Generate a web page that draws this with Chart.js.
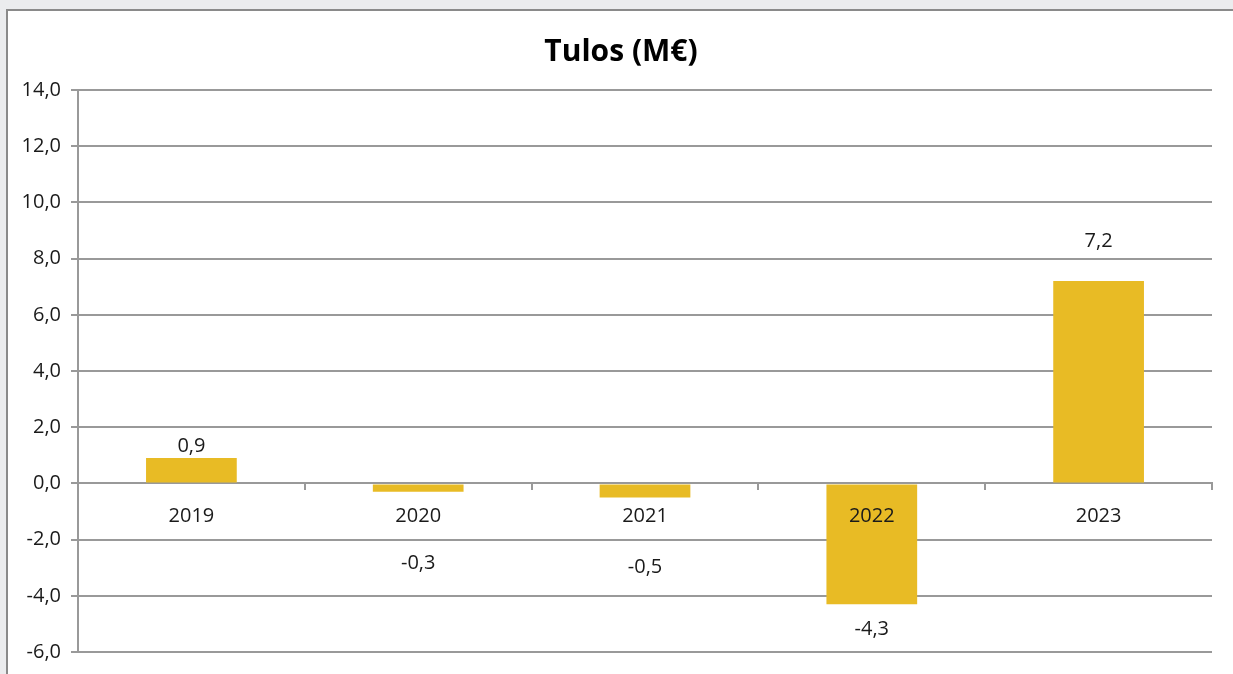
<!DOCTYPE html>
<html>
<head>
<meta charset="utf-8">
<script src="https://cdn.jsdelivr.net/npm/chart.js@4"></script>
<style>
  html, body { margin: 0; padding: 0; overflow: hidden; background: #ebecee; }
  #frame { position: absolute; left: 6px; top: 9px; width: 1300px; height: 700px;
           border: 2px solid #8a8a8a; background: #fff; }
  #wrap { position: absolute; left: 0; top: 0; width: 1233px; height: 674px; }
</style>
</head>
<body>
<div id="frame"></div>
<div id="wrap"><canvas id="tulosChart"></canvas></div>
<script>
const years = ['2019', '2020', '2021', '2022', '2023'];
const tulos = [0.9, -0.3, -0.5, -4.3, 7.2];
// distance (px) from bar end to label centre, as placed in the original
const labelGap = [12, 71, 70, 25, 40];

const fmt = v => v.toFixed(1).replace('.', ',');
const FONT = '"Open Sans", Lato, sans-serif';

const valueLabels = {
  id: 'valueLabels',
  afterLayout(chart) {
    // original title sits centred on the outer frame, a bit right of the canvas centre
    if (chart.titleBlock) chart.titleBlock.left += 30;
  },
  afterDatasetsDraw(chart) {
    const ctx = chart.ctx;
    const meta = chart.getDatasetMeta(0);
    ctx.save();
    ctx.font = '20px ' + FONT;
    ctx.fillStyle = '#1a1a1a';
    ctx.textAlign = 'center';
    ctx.textBaseline = 'middle';
    meta.data.forEach((bar, i) => {
      const v = tulos[i];
      const y = v >= 0 ? bar.y - labelGap[i] : bar.y + labelGap[i];
      ctx.fillText(fmt(v), bar.x, y);
    });
    ctx.restore();
  }
};

(() => {
  const ctx = document.getElementById('tulosChart').getContext('2d');
  new Chart(ctx, {
    type: 'bar',
    data: {
      labels: years,
      datasets: [{
        label: 'Tulos',
        data: tulos,
        backgroundColor: '#e8bb25',
        borderWidth: 0,
        barPercentage: 0.4,
        categoryPercentage: 1
      }]
    },
    options: {
      responsive: true,
      maintainAspectRatio: false,
      animation: false,
      layout: { padding: { left: 0, right: 21, top: 0, bottom: 22 } },
      plugins: {
        legend: { display: false },
        tooltip: { enabled: false },
        title: {
          display: true,
          text: 'Tulos (M€)',
          color: '#000',
          font: { family: FONT, size: 30, weight: 'bold' },
          padding: { top: 34, bottom: 20 }
        }
      },
      scales: {
        x: {
          position: { y: 0 },
          offset: true,
          grid: {
            display: true,
            drawOnChartArea: false,
            drawTicks: true,
            tickLength: 6,
            color: '#999',
            lineWidth: 2,
            offset: true
          },
          border: { display: true, color: '#999', width: 2 },
          ticks: {
            z: 1,
            color: '#1a1a1a',
            padding: 15,
            font: { family: FONT, size: 20 }
          }
        },
        y: {
          min: -6,
          max: 14,
          afterFit: s => { s.width = 78; },
          grid: { color: '#999', lineWidth: 2, tickLength: 7 },
          border: { display: true, color: '#999', width: 2 },
          ticks: {
            stepSize: 2,
            padding: 10,
            color: '#1a1a1a',
            font: { family: FONT, size: 20 },
            callback: v => fmt(v)
          }
        }
      }
    },
    plugins: [valueLabels]
  });
})();
</script>
</body>
</html>
